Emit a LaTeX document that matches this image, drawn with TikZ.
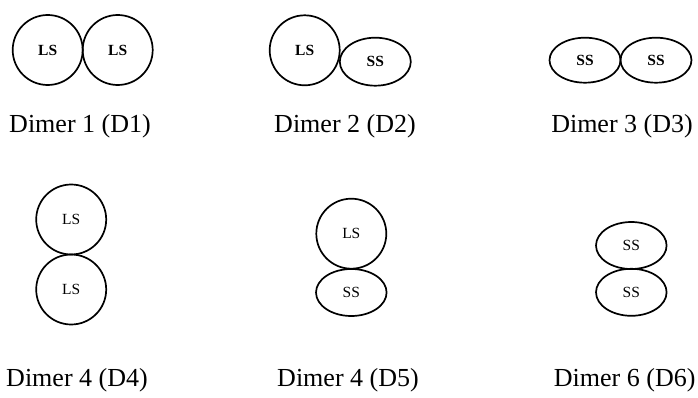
\documentclass[tikz,border=0pt]{standalone}
\usepackage{fontspec}
\setmainfont{Liberation Serif}
\usetikzlibrary{shapes.geometric}
\begin{document}
\begin{tikzpicture}[x=1pt,y=-1pt,
  ball/.style={draw,line width=1.7pt,circle,minimum size=70pt,inner sep=0pt,font=\fontsize{15.5}{16}\selectfont},
  egg/.style={draw,line width=1.7pt,ellipse,minimum width=71pt,minimum height=47pt,inner sep=0pt,font=\fontsize{15.5}{16}\selectfont},
  bf/.style={font=\fontsize{15.5}{16}\selectfont\bfseries},
  dimerlabel/.style={anchor=base,font=\fontsize{26}{28}\selectfont,inner sep=0pt}]
\useasboundingbox (0,0) rectangle (698,398);
% Row 1
\node[ball,bf] (a1) at (47.7,50) {LS};
\node[ball,bf] (a2) at (117.7,50) {LS};
\node[ball,bf] (b1) at (304.7,50.3) {LS};
\node[egg,bf,minimum height=48pt] (b2) at (375.3,61.7) {SS};
\node[egg,bf,minimum height=45pt] (c1) at (585,60.2) {SS};
\node[egg,bf,minimum height=45pt] (c2) at (656,60.2) {SS};
\node[dimerlabel] (l1) at (80,133) {Dimer 1 (D1)};
\node[dimerlabel] (l2) at (345,133) {Dimer 2 (D2)};
\node[dimerlabel] (l3) at (622,133) {Dimer 3 (D3)};
% Row 2
\node[ball] (d1) at (71.2,219.5) {LS};
\node[ball] (d2) at (71.2,289.5) {LS};
\node[ball] (e1) at (351.3,233.7) {LS};
\node[egg,minimum width=70.6pt] (e2) at (351.3,292.5) {SS};
\node[egg,minimum width=70.6pt] (f1) at (631.3,245.5) {SS};
\node[egg,minimum width=70.6pt] (f2) at (631.3,292.3) {SS};
\node[dimerlabel] (l4) at (77,386) {Dimer 4 (D4)};
\node[dimerlabel] (l5) at (348,386) {Dimer 4 (D5)};
\node[dimerlabel] (l6) at (624.7,386) {Dimer 6 (D6)};
\end{tikzpicture}
\end{document}
